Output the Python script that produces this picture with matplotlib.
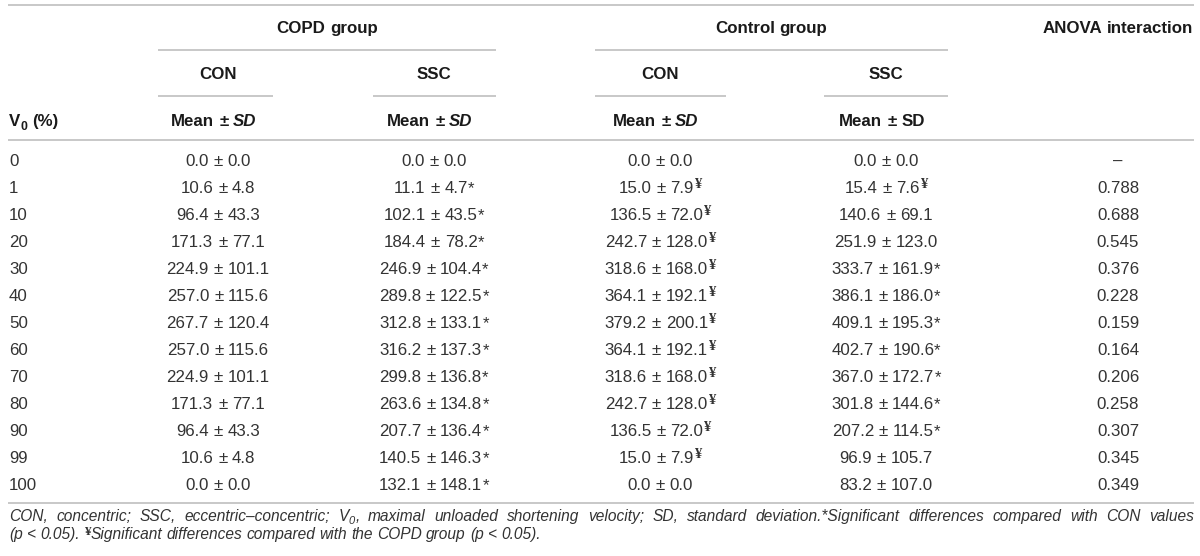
import matplotlib
matplotlib.use("Agg")
import matplotlib.pyplot as plt

plt.rcParams['font.family'] = ['Liberation Sans', 'DejaVu Sans']

# table data
v0 = [0, 1, 10, 20, 30, 40, 50, 60, 70, 80, 90, 99, 100]
copd_con_mean = [0.0, 10.6, 96.4, 171.3, 224.9, 257.0, 267.7, 257.0, 224.9, 171.3, 96.4, 10.6, 0.0]
copd_con_sd = [0.0, 4.8, 43.3, 77.1, 101.1, 115.6, 120.4, 115.6, 101.1, 77.1, 43.3, 4.8, 0.0]
copd_con_mark = ['', '', '', '', '', '', '', '', '', '', '', '', '']
copd_ssc_mean = [0.0, 11.1, 102.1, 184.4, 246.9, 289.8, 312.8, 316.2, 299.8, 263.6, 207.7, 140.5, 132.1]
copd_ssc_sd = [0.0, 4.7, 43.5, 78.2, 104.4, 122.5, 133.1, 137.3, 136.8, 134.8, 136.4, 146.3, 148.1]
copd_ssc_mark = ['', '*', '*', '*', '*', '*', '*', '*', '*', '*', '*', '*', '*']
ctrl_con_mean = [0.0, 15.0, 136.5, 242.7, 318.6, 364.1, 379.2, 364.1, 318.6, 242.7, 136.5, 15.0, 0.0]
ctrl_con_sd = [0.0, 7.9, 72.0, 128.0, 168.0, 192.1, 200.1, 192.1, 168.0, 128.0, 72.0, 7.9, 0.0]
ctrl_con_mark = ['', '¥', '¥', '¥', '¥', '¥', '¥', '¥', '¥', '¥', '¥', '¥', '']
ctrl_ssc_mean = [0.0, 15.4, 140.6, 251.9, 333.7, 386.1, 409.1, 402.7, 367.0, 301.8, 207.2, 96.9, 83.2]
ctrl_ssc_sd = [0.0, 7.6, 69.1, 123.0, 161.9, 186.0, 195.3, 190.6, 172.7, 144.6, 114.5, 105.7, 107.0]
ctrl_ssc_mark = ['', '¥', '', '', '*', '*', '*', '*', '*', '*', '*', '', '']
anova_p = [None, 0.788, 0.688, 0.545, 0.376, 0.228, 0.159, 0.164, 0.206, 0.258, 0.307, 0.345, 0.349]

groups = ['COPD group', 'Control group']
sub_cols = ['CON', 'SSC', 'CON', 'SSC']
sd_italic = [True, True, True, False]

foot1 = ("CON, concentric; SSC, eccentric\u2013concentric; V0, maximal unloaded shortening "
         "velocity; SD, standard deviation.*Significant differences compared with CON values")
foot2 = "(p < 0.05). \u00a5Significant differences compared with the COPD group (p < 0.05)."

# figure in pixel coordinates
fig = plt.figure(figsize=(12, 5.56), dpi=100)
ax = fig.add_axes([0, 0, 1, 1])
ax.set_xlim(0, 1200)
ax.set_ylim(556, 0)
ax.axis('off')
renderer = fig.canvas.get_renderer()

FS = 12.2
FT = 11.2
DARK = '#1a1a1a'
GREY = '#333333'
STY = {
    'r': (dict(size=FS, color=GREY), 0),
    'b': (dict(size=FS, weight='bold', color=DARK), 0),
    'bi': (dict(size=FS, weight='bold', style='italic', color=DARK), 0),
    'bsub': (dict(size=8.8, weight='bold', color=DARK), 4),
    'yen': (dict(size=10.5, weight='bold', color=GREY, family='Liberation Serif'), -5),
    'it': (dict(size=FT, style='italic', color=GREY), 0),
    'itsub': (dict(size=8.0, style='italic', color=GREY), 3),
    'fyen': (dict(size=9.5, weight='bold', color=GREY, family='Liberation Serif'), -4),
}


def width_of(s, key):
    kw, dy = STY[key]
    t = ax.text(0, 0, s, **kw)
    w = t.get_window_extent(renderer).width
    t.remove()
    return w


def space_of(key):
    return width_of('a a', key) - width_of('aa', key)


def draw_tokens(x, y, tokens, ha='left', justify=None, pad=0.0):
    measured = []
    for tok in tokens:
        items = []
        for s, key in tok:
            if s == '':
                continue
            kw, dy = STY[key]
            t = ax.text(0, y + dy, s, va='baseline', ha='left', **kw)
            items.append((t, t.get_window_extent(renderer).width + pad))
        measured.append(items)
    tok_w = [sum(w for _, w in items) for items in measured]
    gap = space_of(tokens[0][0][1])
    if justify is not None and len(tokens) > 1:
        gap = (justify - sum(tok_w)) / (len(tokens) - 1)
    total = sum(tok_w) + gap * (len(tokens) - 1)
    x0 = {'left': x, 'center': x - total / 2, 'right': x - total}[ha]
    for items in measured:
        for t, w in items:
            t.set_x(x0)
            x0 += w
        x0 += gap


def rule(x0, x1, y):
    ax.plot([x0, x1], [y, y], color='#c8c8c8', lw=1.4, solid_capstyle='butt')


# layout
col_x = [218, 434, 660, 886]
anova_x = 1118
row_y0 = 160
row_dy = 27.0
base = 6

# rules
rule(8, 1194, 5)
rule(158, 496, 50)
rule(595, 948, 50)
rule(158, 273, 96)
rule(373, 496, 96)
rule(595, 726, 96)
rule(824, 948, 96)
rule(8, 1194, 140)
rule(8, 1194, 503)

# header
draw_tokens(327, 27 + base, [[(w, 'b')] for w in groups[0].split()], ha='center')
draw_tokens(771, 27 + base, [[(w, 'b')] for w in groups[1].split()], ha='center')
draw_tokens(anova_x, 27 + base, [[('ANOVA', 'b')], [('interaction', 'b')]], ha='center')
for cx, name, itl in zip(col_x, sub_cols, sd_italic):
    draw_tokens(cx, 73 + base, [[(name, 'b')]], ha='center')
    draw_tokens(cx - 4, 120 + base, [[('Mean', 'b')], [('\u00b1', 'b')],
                                     [('SD', 'bi' if itl else 'b')]], ha='center')
draw_tokens(9, 120 + base, [[('V', 'b'), ('0', 'bsub')], [('(%)', 'b')]])

# body
series = [(copd_con_mean, copd_con_sd, copd_con_mark),
          (copd_ssc_mean, copd_ssc_sd, copd_ssc_mark),
          (ctrl_con_mean, ctrl_con_sd, ctrl_con_mark),
          (ctrl_ssc_mean, ctrl_ssc_sd, ctrl_ssc_mark)]
for i, v in enumerate(v0):
    y = row_y0 + i * row_dy + base
    draw_tokens(9, y, [[(str(v), 'r')]])
    for cx, (m, s, mk) in zip(col_x, series):
        mark_key = 'yen' if mk[i] == '¥' else 'r'
        draw_tokens(cx, y, [[('%.1f' % m[i], 'r')], [('\u00b1', 'r')],
                            [('%.1f' % s[i], 'r'), (mk[i], mark_key)]], ha='center')
    p = anova_p[i]
    draw_tokens(anova_x, y, [[('\u2013' if p is None else '%.3f' % p, 'r')]], ha='center')

# footnote
tok1 = []
for w in foot1.split(' '):
    if w == 'V0,':
        tok1.append([('V', 'it'), ('0', 'itsub'), (',', 'it')])
    else:
        tok1.append([(w, 'it')])
draw_tokens(9, 521, tok1, justify=1185)

tok2 = []
for w in foot2.split(' '):
    if w.startswith('\u00a5'):
        tok2.append([('\u00a5', 'fyen'), (w[1:], 'it')])
    else:
        tok2.append([(w, 'it')])
draw_tokens(9, 539, tok2)

fig.savefig('out.png', dpi=100)
